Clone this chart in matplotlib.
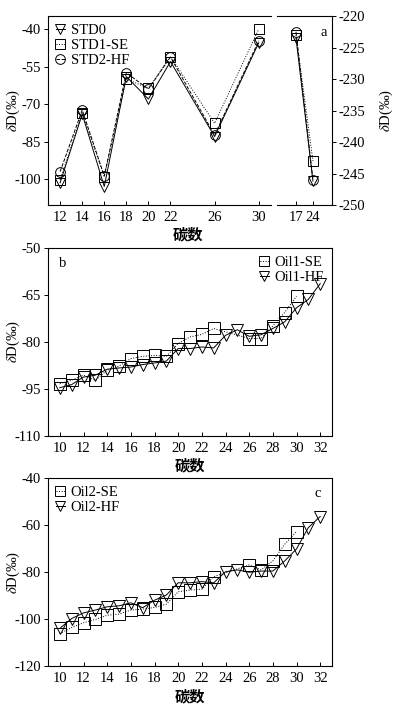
import numpy as np
import matplotlib.pyplot as plt

plt.rcParams['font.family'] = ['Liberation Serif', 'Noto Sans CJK SC']
plt.rcParams['font.size'] = 10.5
plt.rcParams['mathtext.fontset'] = 'stix'
plt.rcParams['axes.unicode_minus'] = False

CJK = ['Noto Sans CJK SC', 'DejaVu Sans']
YLAB = r'$\delta$D(‰)'

# panel a, left part (even carbon numbers)
a_x = [12, 14, 16, 18, 20, 22, 26, 30]
std0 = [-101.5, -74, -103, -59, -68, -53, -83, -45.5]
std1_se = [-100.4, -73.6, -99, -60, -63.7, -51, -77.7, -40]
std2_hf = [-97, -72.4, -98.8, -57.5, -64, -51.2, -82.4, -44.7]
# panel a, right part
a2_labels = ['17', '24']
std0_b = [-223.5, -246.2]
std1_se_b = [-223, -243]
std2_hf_b = [-222.5, -246]

# panel b
b_x_hf = list(range(10, 33))
oil1_hf = [-94.6, -93.6, -91.2, -90.6, -88.7, -88.3, -88, -87.2, -86.7, -86.1,
           -82.1, -82.1, -81.6, -81.9, -77.9, -76.1, -78.2, -77.7, -75.7, -73.6,
           -69.1, -66.4, -61.4]
b_x_se = list(range(10, 24)) + list(range(26, 31))
oil1_se = [-93.3, -92.2, -90.6, -92.2, -89, -87.7, -85.3, -84.6, -84.3, -84.6,
           -80.5, -78.4, -77.6, -75.7, -78.9, -78.9, -74.9, -70.6, -65.4]

# panel c
c_x_hf = list(range(10, 33))
oil2_hf = [-104, -99.8, -97.4, -96.2, -94.8, -94.4, -93.1, -95.2, -92, -89.8,
           -84.6, -84.6, -84.1, -84.6, -79.9, -79.1, -80.1, -79.6, -79.6, -75.3,
           -70.2, -61.1, -56.4]
c_x_se = list(range(10, 24)) + list(range(26, 31))
oil2_se = [-106.2, -103.6, -101.6, -100.2, -98.4, -97.9, -96.2, -95.8, -95.1, -93.7,
           -88.4, -87.7, -87.3, -82, -77, -79.1, -75.3, -68.2, -62.8]

fig = plt.figure(figsize=(3.98, 7.05), dpi=100)

mk = dict(color='black', mfc='none', mec='black', lw=0.7, mew=0.7)
leg_kw = dict(frameon=False, handlelength=0.6, handletextpad=0.4,
              borderaxespad=0.15, labelspacing=0.1, fontsize=10.5)
xlab_kw = dict(family=CJK, fontsize=11, fontweight='bold')


def style(ax):
    ax.tick_params(axis='x', direction='in', length=3, width=0.7, pad=4)
    ax.tick_params(axis='y', direction='out', length=3, width=0.7, pad=2)
    for s in ax.spines.values():
        s.set_linewidth(0.8)


# ---- panel a ----
axa = fig.add_axes([0.1206, 0.7092, 0.560, 0.268])
axa.plot(a_x, std0, 'v-', ms=7, label='STD0', **mk)
axa.plot(a_x, std1_se, 's:', ms=7, label='STD1-SE', **mk)
axa.plot(a_x, std2_hf, 'o--', ms=7, label='STD2-HF', **mk)
axa.set_xlim(10.9, 31.1)
axa.set_ylim(-110.4, -34.8)
axa.set_xticks(a_x)
axa.set_yticks([-40, -55, -70, -85, -100])
axa.spines['right'].set_visible(False)
style(axa)
axa.set_ylabel(YLAB)
axa.yaxis.set_label_coords(-0.118, 0.5)
axa.legend(loc='upper left', **leg_kw)

axa2 = fig.add_axes([0.696, 0.7092, 0.138, 0.268])
xb = np.arange(len(a2_labels))
axa2.plot(xb, std0_b, 'v-', ms=7, **mk)
axa2.plot(xb, std1_se_b, 's:', ms=7, **mk)
axa2.plot(xb, std2_hf_b, 'o--', ms=7, **mk)
axa2.set_xlim(-1.12, 2.12)
axa2.set_ylim(-250, -220)
axa2.set_xticks(xb)
axa2.set_xticklabels(a2_labels)
axa2.set_yticks([-220, -225, -230, -235, -240, -245, -250])
axa2.spines['left'].set_visible(False)
axa2.yaxis.tick_right()
axa2.yaxis.set_label_position('right')
style(axa2)
axa2.set_ylabel(YLAB)
axa2.yaxis.set_label_coords(1.84, 0.5)
axa2.text(0.85, 0.95, 'a', transform=axa2.transAxes, ha='center', va='top')
fig.text(0.472, 0.667, '碳数', ha='center', va='center', **xlab_kw)

# ---- panel b ----
axb = fig.add_axes([0.1206, 0.3816, 0.7136, 0.2667])
axb.plot(b_x_se, oil1_se, 's:', ms=8, label='Oil1-SE', **mk)
axb.plot(b_x_hf, oil1_hf, 'v-', ms=8, label='Oil1-HF', **mk)
axb.set_xlim(9, 33)
axb.set_ylim(-110, -50)
axb.set_xticks(range(10, 33, 2))
axb.set_yticks([-50, -65, -80, -95, -110])
style(axb)
axb.set_ylabel(YLAB)
axb.yaxis.set_label_coords(-0.093, 0.5)
axb.set_xlabel('碳数', labelpad=2, **xlab_kw)
axb.legend(loc='upper right', markerscale=0.85, **leg_kw)
axb.text(0.05, 0.95, 'b', transform=axb.transAxes, ha='center', va='top')

# ---- panel c ----
axc = fig.add_axes([0.1206, 0.0553, 0.7136, 0.2667])
axc.plot(c_x_se, oil2_se, 's:', ms=8, label='Oil2-SE', **mk)
axc.plot(c_x_hf, oil2_hf, 'v-', ms=8, label='Oil2-HF', **mk)
axc.set_xlim(9, 33)
axc.set_ylim(-120, -40)
axc.set_xticks(range(10, 33, 2))
axc.set_yticks([-40, -60, -80, -100, -120])
style(axc)
axc.set_ylabel(YLAB)
axc.yaxis.set_label_coords(-0.093, 0.5)
axc.set_xlabel('碳数', labelpad=3, **xlab_kw)
axc.legend(loc='upper left', markerscale=0.85, **leg_kw)
axc.text(0.95, 0.95, 'c', transform=axc.transAxes, ha='center', va='top')

fig.savefig('out.png', dpi=100)
